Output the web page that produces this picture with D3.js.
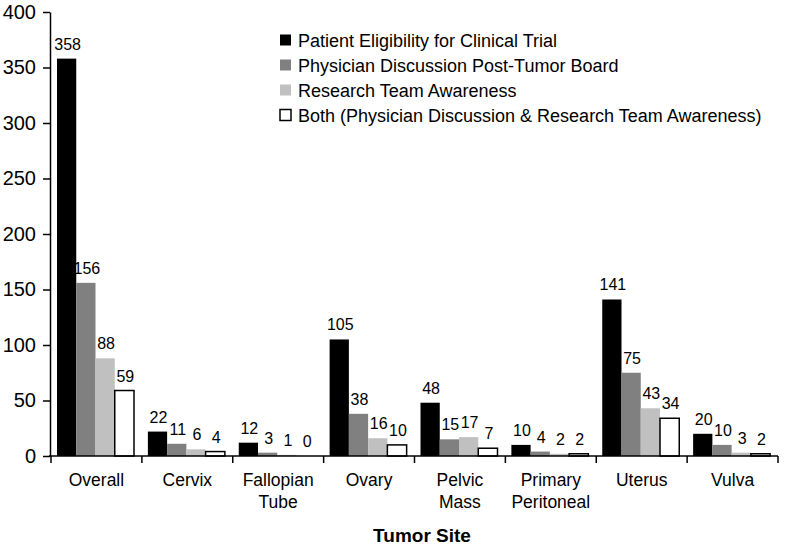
<!DOCTYPE html>
<html>
<head>
<meta charset="utf-8">
<script src="https://cdn.jsdelivr.net/npm/d3@7"></script>
<style>
  body { margin: 0; background: #fff; }
  svg { display: block; font-family: Arial, "Liberation Sans", sans-serif; }
</style>
</head>
<body>
<script>
// data
const sites = ["Overall", "Cervix", "Fallopian Tube", "Ovary", "Pelvic Mass", "Primary Peritoneal", "Uterus", "Vulva"];
const seriesNames = [
  "Patient Eligibility for Clinical Trial",
  "Physician Discussion Post-Tumor Board",
  "Research Team Awareness",
  "Both (Physician Discussion & Research Team Awareness)"
];
const eligibility = [358, 22, 12, 105, 48, 10, 141, 20];
const physician = [156, 11, 3, 38, 15, 4, 75, 10];
const research = [88, 6, 1, 16, 17, 2, 43, 3];
const both = [59, 4, 0, 10, 7, 2, 34, 2];
const yTicks = [0, 50, 100, 150, 200, 250, 300, 350, 400];

const allSeries = [eligibility, physician, research, both];
const fills = ["#000000", "#808080", "#c0c0c0", "#ffffff"];

const W = 800, H = 545;
const svg = d3.select("body").append("svg").attr("width", W).attr("height", H);

const y = d3.scaleLinear().domain([0, 400]).range([456, 12]);
const x0 = d3.scaleBand().domain(sites).range([51, 778]).padding(0);
const x1 = d3.scaleBand().domain(d3.range(4)).range([6, 83]).padding(0);

// bars
const groups = svg.append("g").selectAll("g")
  .data(sites)
  .join("g")
  .attr("transform", d => "translate(" + x0(d) + ",0)");

groups.selectAll("rect")
  .data((d, i) => allSeries.map((s, k) => ({k: k, v: s[i]})))
  .join("rect")
  .attr("x", d => x1(d.k))
  .attr("width", x1.bandwidth())
  .attr("y", d => y(d.v))
  .attr("height", d => y(0) - y(d.v))
  .attr("fill", d => fills[d.k])
  .attr("stroke", d => d.k === 3 ? "#000" : "none")
  .attr("stroke-width", 1.5);

groups.selectAll("text.val")
  .data((d, i) => allSeries.map((s, k) => ({k: k, v: s[i]})))
  .join("text")
  .attr("class", "val")
  .attr("x", d => x1(d.k) + x1.bandwidth() / 2 + 1)
  .attr("y", d => y(d.v) - 9)
  .attr("text-anchor", "middle")
  .attr("font-size", 16)
  .attr("fill", "#000")
  .text(d => d.v);

// y axis
const yAxis = svg.append("g")
  .attr("transform", "translate(50,0)")
  .call(d3.axisLeft(y).tickValues(yTicks).tickSize(7).tickPadding(7).tickSizeOuter(0));
yAxis.select(".domain").attr("stroke", "#000").attr("stroke-width", 1.5);
yAxis.selectAll(".tick line").attr("stroke-width", 1.5);
yAxis.selectAll(".tick text").attr("font-size", 20).attr("font-family", "Arial, 'Liberation Sans', sans-serif");

// x axis with ticks at category boundaries
const xAxis = svg.append("g").attr("transform", "translate(0," + y(0) + ")");
xAxis.append("line")
  .attr("x1", 49).attr("x2", x0.range()[1])
  .attr("stroke", "#000").attr("stroke-width", 1.5);
const edges = sites.map(s => x0(s)).concat([x0.range()[1]]);
xAxis.selectAll("line.tk")
  .data(edges)
  .join("line")
  .attr("class", "tk")
  .attr("x1", d => d).attr("x2", d => d)
  .attr("y1", 0).attr("y2", 7)
  .attr("stroke", "#000").attr("stroke-width", 1.5);

const catLabels = svg.append("g").selectAll("text")
  .data(sites)
  .join("text")
  .attr("text-anchor", "middle")
  .attr("font-size", 17.5)
  .attr("fill", "#000")
  .attr("transform", d => "translate(" + (x0(d) + x0.bandwidth() / 2) + ",486)");
catLabels.each(function(d) {
  const words = d.split(" ");
  const t = d3.select(this);
  words.forEach((w, i) => {
    t.append("tspan").attr("x", 0).attr("y", i * 22).text(w);
  });
});

svg.append("text")
  .attr("x", 422)
  .attr("y", 542)
  .attr("text-anchor", "middle")
  .attr("font-size", 19)
  .attr("font-weight", "bold")
  .text("Tumor Site");

// legend
const legend = svg.append("g").selectAll("g")
  .data(seriesNames)
  .join("g")
  .attr("transform", (d, i) => "translate(280," + (40 + i * 25) + ")");
legend.append("rect")
  .attr("x", 0).attr("y", -5.5)
  .attr("width", 11).attr("height", 11)
  .attr("fill", (d, i) => fills[i])
  .attr("stroke", (d, i) => i === 3 ? "#000" : "none")
  .attr("stroke-width", 1.5);
legend.append("text")
  .attr("x", 18).attr("y", 6.5)
  .attr("font-size", 18)
  .attr("fill", "#000")
  .text(d => d);
</script>
</body>
</html>
